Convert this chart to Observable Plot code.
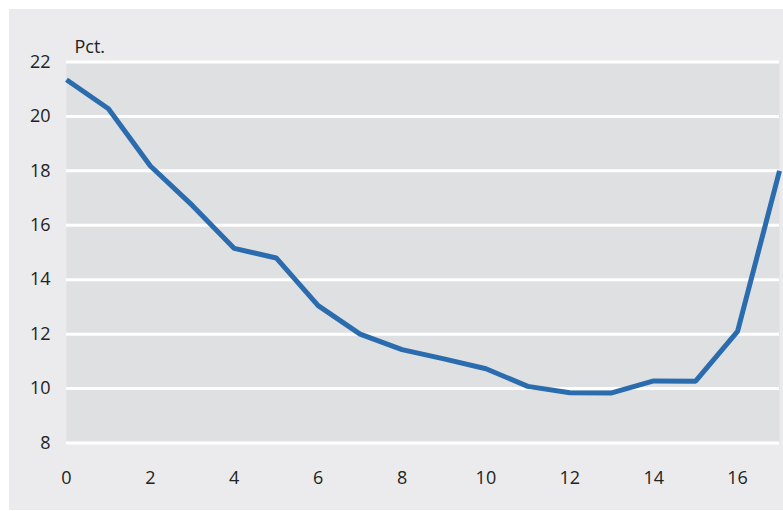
<!DOCTYPE html>
<html>
<head>
<meta charset="utf-8">
<script src="https://cdn.jsdelivr.net/npm/d3@7"></script>
<script src="https://cdn.jsdelivr.net/npm/@observablehq/plot@0.6"></script>
<style>
  html, body { margin: 0; padding: 0; background: #ffffff; }
  #wrap { position: absolute; left: 9px; top: 9px; width: 774px; height: 501px; background: #ebebed; }
  svg { font-family: "Open Sans", "DejaVu Sans", sans-serif; }
</style>
</head>
<body>
<div id="wrap"></div>
<script>
const xValues = [0, 1, 2, 3, 4, 5, 6, 7, 8, 9, 10, 11, 12, 13, 14, 15, 16, 17];
const yValues = [21.35, 20.28, 18.18, 16.73, 15.15, 14.8, 13.05, 12.0, 11.43, 11.09, 10.73, 10.08, 9.85, 9.84, 10.28, 10.27, 12.1, 18.0];
const xTicks = [0, 2, 4, 6, 8, 10, 12, 14, 16];
const yTicks = [8, 10, 12, 14, 16, 18, 20, 22];
const unitLabel = ["Pct."];

const data = xValues.map((x, i) => ({x, y: yValues[i]}));

const chart = Plot.plot({
  width: 774,
  height: 501,
  marginLeft: 57,
  marginTop: 52.5,
  marginRight: 4,
  marginBottom: 67.5,
  style: {background: "transparent", fontSize: "18px", color: "#222"},
  x: {domain: [0, 17], ticks: xTicks, tickSize: 0, tickPadding: 28, label: null},
  y: {domain: [8, 22], ticks: yTicks, tickSize: 0, tickPadding: 16, label: null},
  marks: [
    Plot.frame({fill: "#dfe0e2", stroke: null}),
    Plot.gridY(yTicks, {stroke: "#ffffff", strokeOpacity: 1, strokeWidth: 3}),
    Plot.line(data, {x: "x", y: "y", stroke: "#2a6cad", strokeWidth: 5, strokeLinejoin: "miter", strokeLinecap: "butt"}),
    Plot.text(unitLabel, {frameAnchor: "top-left", dx: 8, dy: -9, textAnchor: "start", lineAnchor: "bottom", fontSize: 18, fill: "#222"})
  ]
});
document.getElementById("wrap").appendChild(chart);
</script>
</body>
</html>
